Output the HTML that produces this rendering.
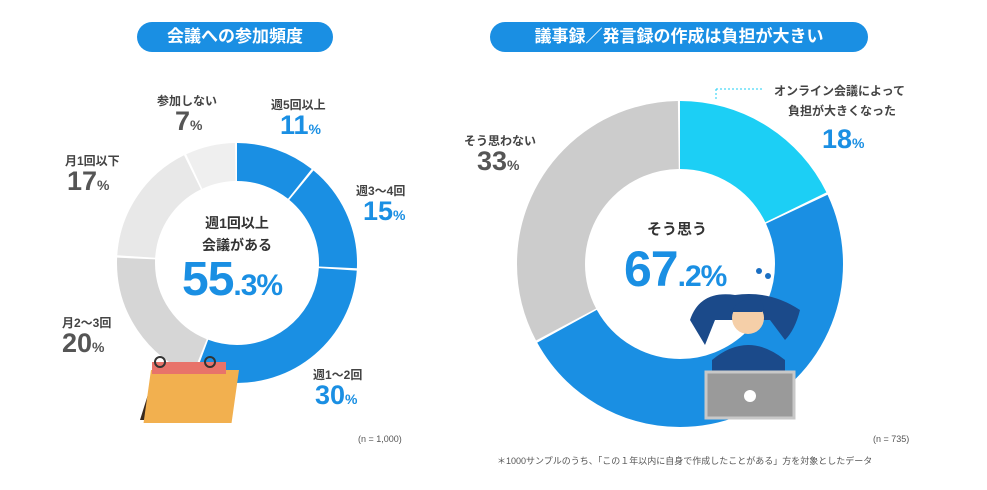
<!DOCTYPE html>
<html><head><meta charset="utf-8"><style>
body{margin:0;width:987px;height:490px;background:#fff;overflow:hidden;font-family:"Liberation Sans","Noto Sans CJK JP",sans-serif;}
.a{position:absolute;white-space:nowrap;font-weight:bold;}
.pill{position:absolute;background:#1a8fe3;color:#fff;border-radius:16px;text-align:center;font-weight:bold;font-size:17px;line-height:30px;height:30px;}
.l{font-size:12px;color:#444;}
.g{color:#555;font-size:27px;}
.b{color:#1a8fe3;font-size:27px;}
.p{font-size:14px;}
</style></head><body>
<div class="pill" style="left:137px;top:22px;width:196px;">会議への参加頻度</div>
<div class="pill" style="left:490px;top:22px;width:378px;">議事録／発言録の作成は負担が大きい</div>
<svg width="987" height="490" style="position:absolute;left:0;top:0">
<g transform="rotate(-90 237 263)" fill="none" stroke-width="38">
<circle cx="237" cy="263" r="101" stroke="#1a8fe3" stroke-dasharray="67.8 700" stroke-dashoffset="0"/>
<circle cx="237" cy="263" r="101" stroke="#1a8fe3" stroke-dasharray="93.2 700" stroke-dashoffset="-69.8"/>
<circle cx="237" cy="263" r="101" stroke="#1a8fe3" stroke-dasharray="188.4 700" stroke-dashoffset="-165"/>
<circle cx="237" cy="263" r="101" stroke="#d6d6d6" stroke-dasharray="124.9 700" stroke-dashoffset="-355.4"/>
<circle cx="237" cy="263" r="101" stroke="#e8e8e8" stroke-dasharray="105.9 700" stroke-dashoffset="-482.3"/>
<circle cx="237" cy="263" r="101" stroke="#efefef" stroke-dasharray="42.4 700" stroke-dashoffset="-590.2"/>
</g>
<g transform="rotate(-90 680 264)" fill="none" stroke-width="68">
<circle cx="680" cy="264" r="129" stroke="#1ccff5" stroke-dasharray="143.9 900" stroke-dashoffset="0"/>
<circle cx="680" cy="264" r="129" stroke="#1a8fe3" stroke-dasharray="396.8 900" stroke-dashoffset="-145.9"/>
<circle cx="680" cy="264" r="129" stroke="#cccccc" stroke-dasharray="263.8 900" stroke-dashoffset="-544.7"/>
</g>
<!-- calendar -->
<polygon points="140,420 155,372 175,372 160,420" fill="#3a2a1e"/>
<rect x="148" y="370" width="88" height="53" fill="#f2b04f" transform="skewX(-8) translate(55 0)"/>
<rect x="152" y="362" width="74" height="12" fill="#e8736a"/>
<circle cx="160" cy="362" r="5" fill="none" stroke="#333" stroke-width="2"/>
<circle cx="210" cy="362" r="5" fill="none" stroke="#333" stroke-width="2"/>
<!-- person -->
<path d="M690 320 Q700 290 735 295 Q770 290 800 310 Q795 330 785 340 L770 320 L745 320 L715 320 L705 345 Z" fill="#1b4a8a"/>
<circle cx="748" cy="318" r="16" fill="#f5cfa8"/>
<path d="M732 312 Q738 296 760 300 Q766 308 762 312 Z" fill="#1b4a8a"/>
<path d="M712 360 Q748 330 785 360 L785 380 L712 380 Z" fill="#1b4a8a"/>
<rect x="706" y="372" width="88" height="46" fill="#9a9a9a" stroke="#c8c8c8" stroke-width="3"/>
<circle cx="750" cy="396" r="6" fill="#fff"/>
<circle cx="759" cy="271" r="3" fill="#1a6fc3"/><circle cx="768" cy="276" r="3" fill="#1a6fc3"/>
<line x1="716" y1="89" x2="763" y2="89" stroke="#1ccff5" stroke-dasharray="2 2"/>
<line x1="716" y1="89" x2="716" y2="100" stroke="#1ccff5" stroke-dasharray="2 2"/>
</svg>
<div class="a l" style="left:157px;top:92px">参加しない</div>
<div class="a g" style="left:175px;top:106px">7<span class="p">%</span></div>
<div class="a l" style="left:271px;top:96px">週5回以上</div>
<div class="a b" style="left:280px;top:110px">11<span class="p">%</span></div>
<div class="a l" style="left:356px;top:182px">週3〜4回</div>
<div class="a b" style="left:363px;top:196px">15<span class="p">%</span></div>
<div class="a l" style="left:65px;top:152px">月1回以下</div>
<div class="a g" style="left:67px;top:166px">17<span class="p">%</span></div>
<div class="a l" style="left:62px;top:314px">月2〜3回</div>
<div class="a g" style="left:62px;top:328px">20<span class="p">%</span></div>
<div class="a l" style="left:313px;top:366px">週1〜2回</div>
<div class="a b" style="left:315px;top:380px">30<span class="p">%</span></div>
<div class="a" style="left:0;width:474px;text-align:center;top:212px;font-size:14px;color:#333;line-height:22px">週1回以上<br>会議がある</div>
<div class="a" style="left:182px;top:252px;font-size:48px;color:#1a8fe3;letter-spacing:-1px">55<span style="font-size:30px">.3%</span></div>
<div class="a" style="left:358px;top:434px;font-size:9px;color:#555;font-weight:normal">(n = 1,000)</div>
<div class="a l" style="left:464px;top:132px">そう思わない</div>
<div class="a g" style="left:477px;top:146px">33<span class="p">%</span></div>
<div class="a l" style="left:774px;top:82px">オンライン会議によって</div>
<div class="a l" style="left:788px;top:102px">負担が大きくなった</div>
<div class="a b" style="left:822px;top:124px">18<span class="p">%</span></div>
<div class="a" style="left:647px;top:218px;font-size:15px;color:#333">そう思う</div>
<div class="a" style="left:624px;top:240px;font-size:50px;color:#1a8fe3;letter-spacing:-1px">67<span style="font-size:30px">.2%</span></div>
<div class="a" style="left:873px;top:434px;font-size:9px;color:#555;font-weight:normal">(n = 735)</div>
<div class="a" style="left:497px;top:454px;font-size:9px;color:#555;font-weight:normal">＊1000サンプルのうち、「この１年以内に自身で作成したことがある」方を対象としたデータ</div>
</body></html>
